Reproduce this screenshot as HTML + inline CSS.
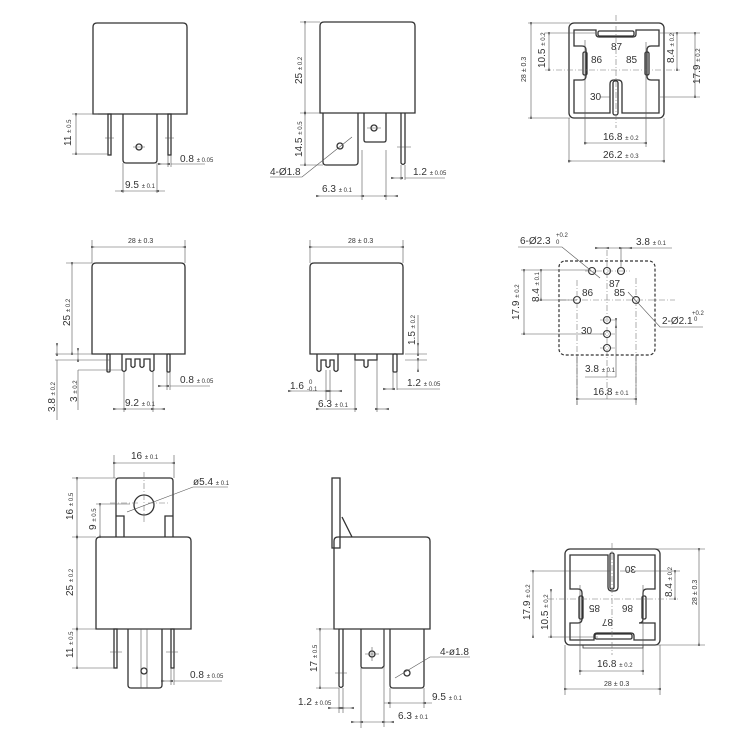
<!DOCTYPE html>
<html><head><meta charset="utf-8"><style>
html,body{margin:0;padding:0;background:#fff}
svg{display:block;font-family:"Liberation Sans",sans-serif}
.o{fill:none;stroke:#333;stroke-width:1.3}
.d{fill:none;stroke:#555;stroke-width:0.6}
.c{fill:none;stroke:#777;stroke-width:0.6;stroke-dasharray:6 2 1 2}
.a{fill:none;stroke:#555;stroke-width:0.6;marker-start:url(#m);marker-end:url(#m)}
text{fill:#333;font-size:10px}
.s{font-size:6px}
</style></head><body>
<svg width="750" height="750" viewBox="0 0 750 750">
<defs><marker id="m" viewBox="0 0 10 10" refX="5" refY="5" markerWidth="6" markerHeight="6" orient="auto-start-reverse"><path d="M10,2 L0,5 L10,8z" fill="#444"/></marker></defs>

<!-- Panel 1 -->
<path class="o" d="M93,114 V27 q0,-4 4,-4 H183 q4,0 4,4 V114 Z"/>
<rect class="o" x="108" y="114" width="3" height="41"/>
<path class="o" d="M123,114 V160 q0,3 3,3 H154 q3,0 3,-3 V114"/>
<rect class="o" x="168" y="114" width="3" height="41"/>
<circle class="o" cx="139" cy="147" r="3"/>
<path class="d" d="M105,138 h9 M165,138 h9 M133,147 h12"/>
<path class="d" d="M72,114 h26 M72,154 h36"/>
<line class="a" x1="76" y1="115" x2="76" y2="153"/>
<text transform="translate(71,146) rotate(-90)">11 <tspan class="s">± 0.5</tspan></text>
<path class="d" d="M168,155 v12 M171,155 v12 M123,163 v30 M157,163 v30"/>
<line class="a" x1="160" y1="164" x2="168" y2="164"/><line class="d" x1="171" y1="164" x2="205" y2="164"/>
<text x="180" y="162">0.8 <tspan class="s">± 0.05</tspan></text>
<line class="a" x1="123" y1="191" x2="157" y2="191"/><path class="d" d="M115,191h8M157,191h8"/>
<text x="125" y="188">9.5 <tspan class="s">± 0.1</tspan></text>

<!-- Panel 2 -->
<path class="o" d="M320,113 V26 q0,-4 4,-4 H411 q4,0 4,4 V113 Z"/>
<path class="o" d="M323,113 V162 q0,3 3,3 H355 q3,0 3,-3 V113"/>
<path class="o" d="M364,113 V140 q0,2 2,2 H384 q2,0 2,-2 V113"/>
<path class="o" d="M401,113 V163 q2,3 4,0 V113"/>
<circle class="o" cx="374" cy="128" r="3"/><circle class="o" cx="340" cy="146" r="3"/>
<path class="d" d="M367,128h14M397,147h14"/>
<path class="d" d="M300,22h20M300,113h20M300,165h23"/>
<line class="a" x1="305" y1="23" x2="305" y2="112"/>
<line class="a" x1="305" y1="114" x2="305" y2="164"/>
<text transform="translate(302,84) rotate(-90)">25 <tspan class="s">± 0.2</tspan></text>
<text transform="translate(302,157) rotate(-90)">14.5 <tspan class="s">± 0.5</tspan></text>
<path class="d" d="M352,137 L302,177 H270"/>
<text x="270" y="175">4-Ø1.8</text>
<path class="d" d="M362,150v50M386,150v50M401,165v15M405,165v15"/>
<line class="a" x1="318" y1="196" x2="362" y2="196"/><line class="a" x1="386" y1="196" x2="396" y2="196"/><line class="d" x1="362" y1="196" x2="386" y2="196"/>
<text x="322" y="192">6.3 <tspan class="s">± 0.1</tspan></text>
<line class="a" x1="393" y1="178" x2="401" y2="178"/><line class="d" x1="405" y1="178" x2="445" y2="178"/>
<text x="413" y="175">1.2 <tspan class="s">± 0.05</tspan></text>

<!-- Panel 3 -->
<rect class="o" x="569" y="23" width="95" height="95" rx="5"/>
<path class="o" d="M574,30 H596 v4 q0,3 3,3 H633 q3,0 3,-3 v-4 H659 V46 H651 q-4,0 -4,4 V76 q0,4 4,4 H659 V113 H622 V84 q0,-4 -4,-4 H614 q-4,0 -4,4 V113 H574 V80 H582 q4,0 4,-4 V50 q0,-4 -4,-4 H574 Z"/>
<rect class="o" x="598" y="31" width="36" height="5" rx="1.5"/>
<rect class="o" x="583" y="52" width="4" height="23" rx="1.5"/>
<rect class="o" x="645" y="52" width="4" height="23" rx="1.5"/>
<rect class="o" x="613" y="81" width="5" height="34" rx="2"/>
<line class="c" x1="616" y1="15" x2="616" y2="128"/>
<line class="c" x1="545" y1="70" x2="680" y2="70"/>
<path class="d" d="M585,40v105M646,42v105M569,118v45M664,118v45M528,23h42M528,118h42M545,33h50M660,33h40M660,97h40M610,97h-10"/>
<text x="611" y="50">87</text><text x="591" y="63">86</text><text x="626" y="63">85</text><text x="590" y="100">30</text>
<line class="a" x1="531" y1="24" x2="531" y2="117"/>
<text transform="translate(526,82) rotate(-90)" class="s" style="font-size:7px">28 ± 0.3</text>
<line class="a" x1="549" y1="34" x2="549" y2="69"/>
<text transform="translate(545,68) rotate(-90)">10.5 <tspan class="s">± 0.2</tspan></text>
<line class="a" x1="677" y1="34" x2="677" y2="69"/>
<text transform="translate(674,63) rotate(-90)">8.4 <tspan class="s">± 0.2</tspan></text>
<line class="a" x1="695" y1="34" x2="695" y2="96"/>
<text transform="translate(700,84) rotate(-90)">17.9 <tspan class="s">± 0.2</tspan></text>
<line class="a" x1="586" y1="143" x2="645" y2="143"/>
<text x="603" y="140">16.8 <tspan class="s">± 0.2</tspan></text>
<line class="a" x1="570" y1="161" x2="663" y2="161"/>
<text x="603" y="158">26.2 <tspan class="s">± 0.3</tspan></text>

<!-- Panel 4 -->
<path class="o" d="M92,354 V267 q0,-4 4,-4 H181 q4,0 4,4 V354 Z"/>
<rect class="o" x="107" y="354" width="3" height="18" rx="1"/>
<rect class="o" x="167" y="354" width="3" height="18" rx="1"/>
<path class="o" d="M122,354 V370 q2,3 4,0 V359 H131 V366 q2,3 4,0 V359 H140 V366 q2,3 4,0 V359 H150 V370 q2,3 4,0 V354"/>
<path class="d" d="M92,240v23M185,240v23M66,263h26M55,354h37M55,360h55M78,370h45M124,372v40M153,372v40M167,372v18M170,372v18"/>
<line class="a" x1="93" y1="247" x2="184" y2="247"/>
<text x="128" y="243" style="font-size:7px">28 ± 0.3</text>
<line class="a" x1="72" y1="264" x2="72" y2="353"/>
<text transform="translate(70,326) rotate(-90)">25 <tspan class="s">± 0.2</tspan></text>
<path class="a" d="M57,345v9"/><path class="d" d="M57,360v60"/><path class="a" d="M78,350v10"/><path class="d" d="M78,370v40"/>
<text transform="translate(55,412) rotate(-90)">3.8 <tspan class="s">± 0.2</tspan></text>
<text transform="translate(77,402) rotate(-90)">3 <tspan class="s">± 0.2</tspan></text>
<line class="a" x1="160" y1="386" x2="167" y2="386"/><line class="d" x1="170" y1="386" x2="210" y2="386"/>
<text x="180" y="383">0.8 <tspan class="s">± 0.05</tspan></text>
<line class="a" x1="115" y1="409" x2="124" y2="409"/><line class="a" x1="153" y1="409" x2="163" y2="409"/><line class="d" x1="124" y1="409" x2="153" y2="409"/>
<text x="125" y="406">9.2 <tspan class="s">± 0.1</tspan></text>

<!-- Panel 5 -->
<path class="o" d="M310,354 V267 q0,-4 4,-4 H399 q4,0 4,4 V354 Z"/>
<path class="o" d="M317,354 V370 q2,3 4,0 V360 H326 V366 q2,3 4,0 V360 H334 V370 q2,3 4,0 V354"/>
<path class="o" d="M355,354 V360 H364 V366 q2,3 4,0 V360 H377 V354"/>
<rect class="o" x="393" y="354" width="4" height="18" rx="1"/>
<path class="d" d="M310,240v23M403,240v23M326,370v30M330,370v30M355,360v52M377,360v52M393,372v18M397,372v18M405,354h22M405,360h22"/>
<line class="a" x1="311" y1="247" x2="402" y2="247"/>
<text x="348" y="243" style="font-size:7px">28 ± 0.3</text>
<path class="d" d="M418,315v39"/><path class="a" d="M418,345v9"/><path class="a" d="M418,370v-10"/>
<text transform="translate(415,345) rotate(-90)">1.5 <tspan class="s">± 0.2</tspan></text>
<line class="a" x1="290" y1="391" x2="326" y2="391"/><line class="a" x1="340" y1="391" x2="330" y2="391"/>
<text x="290" y="389">1.6</text><text x="309" y="384" class="s">0</text><text x="307" y="391" class="s">-0.1</text>
<line class="a" x1="318" y1="409" x2="355" y2="409"/><line class="a" x1="387" y1="409" x2="377" y2="409"/>
<text x="318" y="407">6.3 <tspan class="s">± 0.1</tspan></text>
<line class="a" x1="385" y1="389" x2="393" y2="389"/><line class="d" x1="397" y1="389" x2="440" y2="389"/>
<text x="407" y="386">1.2 <tspan class="s">± 0.05</tspan></text>

<!-- Panel 6 -->
<rect x="559" y="261" width="96" height="94" rx="6" fill="none" stroke="#333" stroke-width="1.2" stroke-dasharray="3 2"/>
<g class="o" style="stroke-width:1.1">
<circle cx="592" cy="271" r="3.5"/><circle cx="607" cy="271" r="3.5"/><circle cx="621" cy="271" r="3.5"/>
<circle cx="577" cy="300" r="3.5"/><circle cx="636" cy="300" r="3.5"/>
<circle cx="607" cy="320" r="3.5"/><circle cx="607" cy="334" r="3.5"/><circle cx="607" cy="348" r="3.5"/></g>
<path class="c" d="M607,250v150M577,280v125M636,278v125M560,300h115M585,271h45M600,320h15M600,334h15M600,348h15"/>
<text x="609" y="287">87</text><text x="582" y="296">86</text><text x="614" y="296">85</text><text x="581" y="334">30</text>
<path class="d" d="M518,247 H562 L600,278"/>
<text x="520" y="244">6-Ø2.3</text><text x="556" y="237" class="s">+0.2</text><text x="556" y="244" class="s">0</text>
<path class="d" d="M597,248h75M621,248v20"/><line class="a" x1="597" y1="248" x2="607" y2="248"/><line class="a" x1="630" y1="248" x2="621" y2="248"/>
<text x="636" y="245">3.8 <tspan class="s">± 0.1</tspan></text>
<path class="d" d="M628,292 L660,327 H703"/>
<text x="662" y="324">2-Ø2.1</text><text x="692" y="315" class="s">+0.2</text><text x="694" y="321" class="s">0</text>
<path class="d" d="M521,270h70M537,300h40M521,334h85"/>
<line class="a" x1="541" y1="271" x2="541" y2="299"/>
<text transform="translate(539,302) rotate(-90)">8.4 <tspan class="s">± 0.1</tspan></text>
<line class="a" x1="524" y1="271" x2="524" y2="333"/>
<text transform="translate(519,320) rotate(-90)">17.9 <tspan class="s">± 0.2</tspan></text>
<path class="d" d="M585,377h31V320"/><path class="a" d="M616,326v-6"/>
<text x="585" y="372">3.8 <tspan class="s">± 0.1</tspan></text>
<path class="d" d="M577,355v50M636,355v50"/><line class="a" x1="578" y1="399" x2="635" y2="399"/>
<text x="593" y="395">16.8 <tspan class="s">± 0.1</tspan></text>

<!-- Panel 7 -->
<path class="o" d="M116,537 V481 q0,-3 3,-3 H170 q3,0 3,3 V537"/>
<path class="o" d="M116,516 H124 V537 M173,516 H165 V537"/>
<circle class="o" cx="144" cy="505" r="10"/>
<path class="c" d="M144,472v50M110,503h30M148,503h22"/>
<path class="o" d="M96,629 V541 q0,-4 4,-4 H187 q4,0 4,4 V629 Z"/>
<rect class="o" x="114" y="629" width="3" height="39"/>
<rect class="o" x="171" y="629" width="3" height="39"/>
<path class="o" d="M128,629 V685 q0,3 3,3 H159 q3,0 3,-3 V629"/>
<path class="d" d="M141,629v59M147,629v59M110,652h12M166,652h12"/><circle class="o" cx="144" cy="671" r="3"/>
<path class="d" d="M114,455v23M174,455v23M72,478h44M72,537h24M96,504h34M72,629h24M72,668h42M171,668v17M174,668v17"/>
<line class="a" x1="115" y1="463" x2="173" y2="463"/>
<text x="131" y="459">16 <tspan class="s">± 0.1</tspan></text>
<path class="d" d="M127,512 L193,487 H228"/><text x="193" y="485">ø5.4 <tspan class="s">± 0.1</tspan></text>
<line class="a" x1="77" y1="479" x2="77" y2="536"/>
<text transform="translate(73,520) rotate(-90)">16 <tspan class="s">± 0.5</tspan></text>
<line class="a" x1="100" y1="505" x2="100" y2="536"/>
<text transform="translate(96,530) rotate(-90)">9 <tspan class="s">± 0.5</tspan></text>
<line class="a" x1="77" y1="538" x2="77" y2="628"/>
<text transform="translate(73,596) rotate(-90)">25 <tspan class="s">± 0.2</tspan></text>
<line class="a" x1="77" y1="630" x2="77" y2="667"/>
<text transform="translate(73,658) rotate(-90)">11 <tspan class="s">± 0.5</tspan></text>
<line class="a" x1="163" y1="681" x2="171" y2="681"/><line class="d" x1="174" y1="681" x2="222" y2="681"/>
<text x="190" y="678">0.8 <tspan class="s">± 0.05</tspan></text>

<!-- Panel 8 -->
<rect class="o" x="332" y="478" width="8" height="70"/>
<path class="o" d="M342,517 L352,537"/>
<path class="o" d="M334,629 V541 q0,-4 4,-4 H426 q4,0 4,4 V629 Z"/>
<path class="o" d="M339,629 V686 q2,3 4,0 V629"/>
<path class="o" d="M361,629 V666 q0,2 2,2 H382 q0,0 2,-2 V629"/>
<path class="o" d="M390,629 V685 q0,3 3,3 H421 q3,0 3,-3 V629"/>
<circle class="o" cx="372" cy="654" r="3"/><circle class="o" cx="407" cy="673" r="3"/>
<path class="d" d="M372,647v14M365,654h14M335,673h12"/>
<path class="d" d="M316,629h23M316,688h23M339,688v25M343,688v25M361,668v60M384,629v98M390,688v20M424,688v20"/>
<line class="a" x1="320" y1="630" x2="320" y2="687"/>
<text transform="translate(317,672) rotate(-90)">17 <tspan class="s">± 0.5</tspan></text>
<line class="a" x1="330" y1="708" x2="339" y2="708"/><line class="a" x1="352" y1="708" x2="343" y2="708"/>
<text x="298" y="705">1.2 <tspan class="s">± 0.05</tspan></text>
<line class="a" x1="390" y1="703" x2="424" y2="703"/><path class="d" d="M384,703h6M424,703h8"/>
<text x="432" y="700">9.5 <tspan class="s">± 0.1</tspan></text>
<line class="a" x1="353" y1="722" x2="361" y2="722"/><line class="d" x1="361" y1="722" x2="384" y2="722"/><line class="a" x1="392" y1="722" x2="384" y2="722"/>
<text x="398" y="719">6.3 <tspan class="s">± 0.1</tspan></text>
<path class="d" d="M395,678 L430,657 H470"/><text x="440" y="655">4-ø1.8</text>

<!-- Panel 9 -->
<rect class="o" x="565" y="549" width="95" height="96" rx="5"/>
<path class="o" d="M570,555 H608 V587 q0,4 4,4 H614 q4,0 4,-4 V555 H655 V589 H647 q-4,0 -4,4 V619 q0,4 -4,4 H655 V640 H634 v-4 q0,-3 -3,-3 H597 q-3,0 -3,3 v4 H570 V623 H578 q4,0 4,-4 V593 q0,-4 -4,-4 H570 Z"/>
<rect class="o" x="595" y="634" width="37" height="5" rx="1.5"/>
<rect class="o" x="610" y="553" width="4" height="36" rx="1.5"/>
<rect class="o" x="579" y="596" width="4" height="23" rx="1.5"/>
<rect class="o" x="642" y="596" width="4" height="23" rx="1.5"/>
<path d="M583,645 v3 H643 v-3" class="o" style="stroke-width:0.8"/>
<line class="c" x1="612" y1="543" x2="612" y2="655"/>
<line class="c" x1="548" y1="599" x2="678" y2="599"/>
<g transform="rotate(180 612 597)"><text x="611" y="575">87</text><text x="591" y="589">86</text><text x="624" y="589">85</text><text x="588" y="628">30</text></g>
<path class="d" d="M580,585v90M643,585v90M565,645v50M660,645v50M530,571h80M548,637h50M620,571h60M640,645h65M640,549h65"/>
<line class="a" x1="533" y1="572" x2="533" y2="636"/>
<text transform="translate(530,620) rotate(-90)">17.9 <tspan class="s">± 0.2</tspan></text>
<line class="a" x1="551" y1="591" x2="551" y2="636"/>
<text transform="translate(548,630) rotate(-90)">10.5 <tspan class="s">± 0.2</tspan></text>
<line class="a" x1="675" y1="572" x2="675" y2="598"/>
<text transform="translate(672,597) rotate(-90)">8.4 <tspan class="s">± 0.2</tspan></text>
<line class="a" x1="699" y1="550" x2="699" y2="644"/>
<text transform="translate(697,605) rotate(-90)" style="font-size:7px">28 ± 0.3</text>
<line class="a" x1="581" y1="671" x2="642" y2="671"/>
<text x="597" y="667">16.8 <tspan class="s">± 0.2</tspan></text>
<line class="a" x1="566" y1="689" x2="659" y2="689"/>
<text x="604" y="686" style="font-size:7px">28 ± 0.3</text>
</svg>
</body></html>
